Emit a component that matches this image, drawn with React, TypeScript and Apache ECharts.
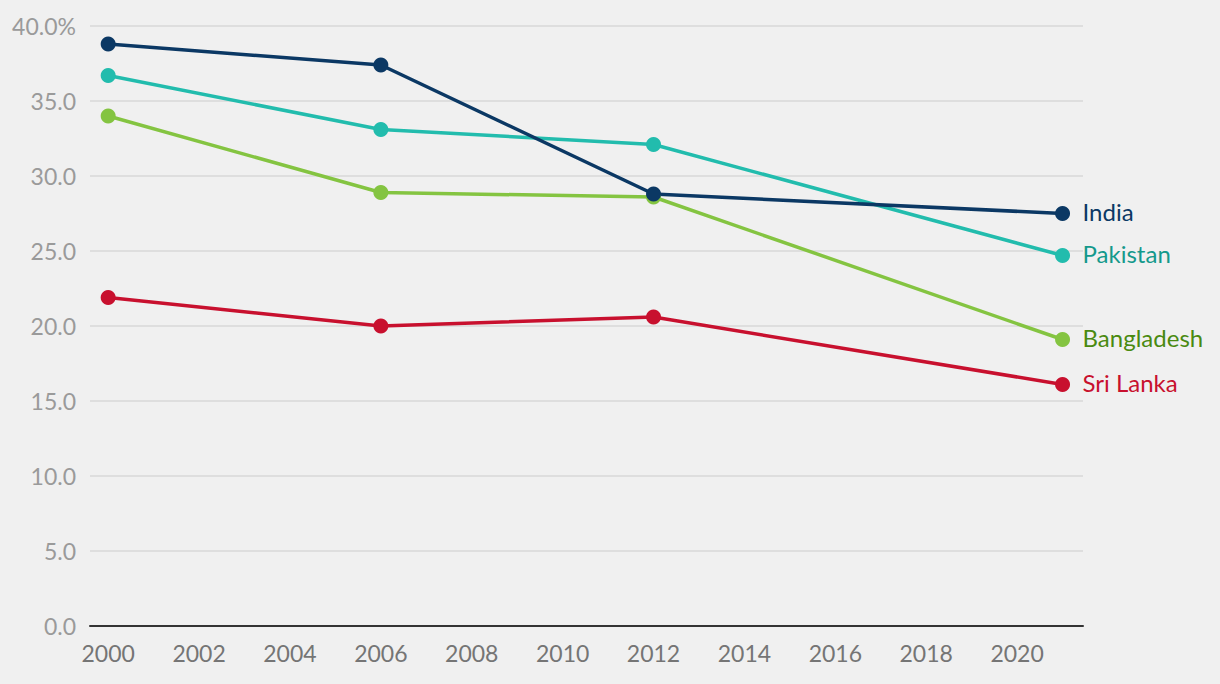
import React, { useEffect, useRef } from "react";
import * as echarts from "echarts";

const years = [2000, 2006, 2012, 2021];
const india = [38.8, 37.4, 28.8, 27.5];
const pakistan = [36.7, 33.1, 32.1, 24.7];
const bangladesh = [34.0, 28.9, 28.6, 19.1];
const sriLanka = [21.9, 20.0, 20.6, 16.1];
const xTicks = [2000, 2002, 2004, 2006, 2008, 2010, 2012, 2014, 2016, 2018, 2020];

const FONT = "Lato";

export default function App() {
  const ref = useRef<HTMLDivElement>(null);
  useEffect(() => {
    const chart = echarts.init(ref.current!, null, { renderer: "svg" });
    const mk = (name: string, data: number[], color: string, labelColor: string) => ({
      name,
      type: "line",
      data: years.map((y, i) => [y, data[i]]),
      symbol: "circle",
      symbolSize: 15,
      lineStyle: { color, width: 3.5 },
      itemStyle: { color },
      endLabel: {
        show: true,
        formatter: name,
        color: labelColor,
        fontSize: 24,
        fontFamily: FONT,
        distance: 20,
        offset: [0, -2],
      },
    });
    chart.setOption({
      animation: false,
      backgroundColor: "#f0f0f0",
      grid: { left: 90, right: 137, top: 26, bottom: 58, containLabel: false },
      xAxis: {
        type: "value",
        min: 1999.6,
        max: 2021.45,
        splitLine: { show: false },
        axisLine: { show: true, lineStyle: { color: "#333", width: 2 } },
        axisTick: { show: false },
        axisLabel: {
          customValues: xTicks,
          formatter: (v: number) => String(v),
          color: "#757575",
          fontSize: 23,
          fontFamily: FONT,
          margin: 15,
        },
      },
      yAxis: {
        type: "value",
        min: 0,
        max: 40,
        interval: 5,
        axisLine: { show: false },
        axisTick: { show: false },
        splitLine: { lineStyle: { color: "#d9d9d9", width: 1.5 } },
        axisLabel: {
          formatter: (v: number) => (v === 40 ? "40.0%" : v.toFixed(1)),
          color: "#9a9a9a",
          fontSize: 23,
          fontFamily: FONT,
          margin: 14,
        },
      },
      series: [
        mk("Sri Lanka", sriLanka, "#c8102e", "#c8102e"),
        mk("Bangladesh", bangladesh, "#84c441", "#4a8a10"),
        mk("Pakistan", pakistan, "#22bcad", "#14998c"),
        mk("India", india, "#0b3864", "#0b3864"),
      ],
    });
    return () => chart.dispose();
  }, []);
  return (
    <div
      ref={ref}
      style={{ position: "fixed", left: 0, top: 0, width: 1220, height: 684 }}
    />
  );
}
